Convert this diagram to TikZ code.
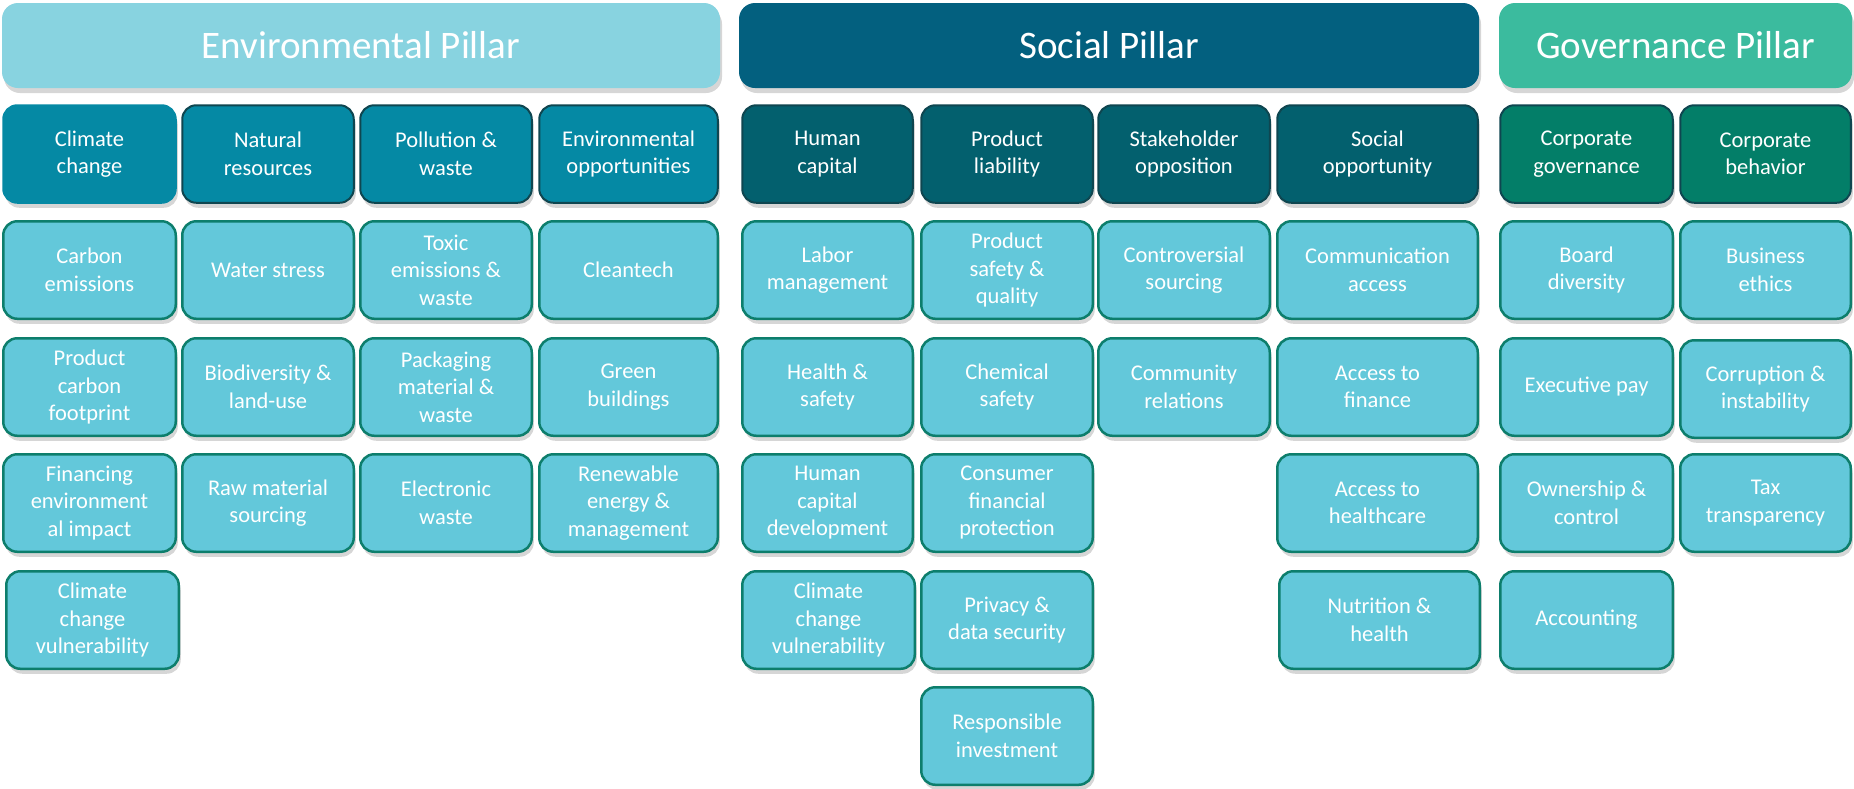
\documentclass[tikz,border=0pt]{standalone}
\usepackage{fontspec}
\setmainfont{Carlito}
\usetikzlibrary{shadows}
\definecolor{envP}{HTML}{88D3E0}
\definecolor{socP}{HTML}{03607F}
\definecolor{govP}{HTML}{3BBB9E}
\definecolor{envH}{HTML}{0589A4}
\definecolor{socH}{HTML}{03606E}
\definecolor{govH}{HTML}{037E68}
\definecolor{hBorder}{HTML}{0F4650}
\definecolor{itemF}{HTML}{63C8DA}
\definecolor{itemB}{HTML}{0D7E6C}
\tikzset{
  base/.style={rounded corners=14pt, align=center, text=white, inner sep=2pt,
    drop shadow={shadow xshift=2pt, shadow yshift=-5pt, opacity=0.16, fill=black}},
  pillar/.style={base, rounded corners=16pt, font=\fontsize{39}{46}\selectfont},
  head/.style={base, draw=hBorder, line width=2pt, font=\fontsize{22.5}{27.5}\selectfont},
  item/.style={base, fill=itemF, draw=itemB, line width=2.5pt, font=\fontsize{22.5}{27.5}\selectfont},
}
% #1 style, #2 name, #3 x1, #4 x2, #5 y1, #6 y2, #7 text
\newcommand\cell[7]{\node[#1, minimum width={#4-#3-2.5}, minimum height={#6-#5-2.5}] (#2) at ({(#3+#4)/2},{(#5+#6)/2}) {#7};}
\begin{document}
\begin{tikzpicture}[x=1pt,y=-1pt]
\useasboundingbox[fill=white] (0,0) rectangle (1854,788);
% pillars
\node[pillar, fill=envP, minimum width=718, minimum height=85] (envp) at (361,45.5) {Environmental Pillar};
\node[pillar, fill=socP, minimum width=740, minimum height=85] (socp) at (1109,45.5) {Social Pillar};
\node[pillar, fill=govP, minimum width=353, minimum height=85] (govp) at (1675.5,45.5) {Governance Pillar};
% headers
\cell{head, fill=envH, draw=envH}{hcc}{2}{177}{104}{204}{Climate\\change}
\cell{head, fill=envH}{hnr}{181}{355}{104}{204}{Natural\\resources}
\cell{head, fill=envH}{hpw}{359}{533}{104}{204}{Pollution \&\\waste}
\cell{head, fill=envH}{heo}{538}{719}{104}{204}{Environmental\\opportunities}
\cell{head, fill=socH}{hhc}{741}{914}{104}{204}{Human\\capital}
\cell{head, fill=socH}{hpl}{920}{1094}{104}{204}{Product\\liability}
\cell{head, fill=socH}{hso}{1097}{1271}{104}{204}{Stakeholder\\opposition}
\cell{head, fill=socH}{hsp}{1276}{1479}{104}{204}{Social\\opportunity}
\cell{head, fill=govH}{hcg}{1499}{1674}{104}{204}{Corporate\\governance}
\cell{head, fill=govH}{hcb}{1679}{1852}{104}{204}{Corporate\\behavior}
% Climate change
\cell{item}{cc1}{2}{177}{220}{320}{Carbon\\emissions}
\cell{item}{cc2}{2}{177}{337}{437}{Product\\carbon\\footprint}
\cell{item}{cc3}{2}{177}{453}{553}{Financing\\environment\\al impact}
\cell{item}{cc4}{5}{180}{570}{670}{Climate\\change\\vulnerability}
% Natural resources
\cell{item}{nr1}{181}{355}{220}{320}{Water stress}
\cell{item}{nr2}{181}{355}{337}{437}{Biodiversity \&\\land-use}
\cell{item}{nr3}{181}{355}{453}{553}{Raw material\\sourcing}
% Pollution
\cell{item}{pw1}{359}{533}{220}{320}{Toxic\\emissions \&\\waste}
\cell{item}{pw2}{359}{533}{337}{437}{Packaging\\material \&\\waste}
\cell{item}{pw3}{359}{533}{453}{553}{Electronic\\waste}
% Env opportunities
\cell{item}{eo1}{538}{719}{220}{320}{Cleantech}
\cell{item}{eo2}{538}{719}{337}{437}{Green\\buildings}
\cell{item}{eo3}{538}{719}{453}{553}{Renewable\\energy \&\\management}
% Human capital
\cell{item}{hc1}{741}{914}{220}{320}{Labor\\management}
\cell{item}{hc2}{741}{914}{337}{437}{Health \&\\safety}
\cell{item}{hc3}{741}{914}{453}{553}{Human\\capital\\development}
\cell{item}{hc4}{741}{916}{570}{670}{Climate\\change\\vulnerability}
% Product liability
\cell{item}{pl1}{920}{1094}{220}{320}{Product\\safety \&\\quality}
\cell{item}{pl2}{920}{1094}{337}{437}{Chemical\\safety}
\cell{item}{pl3}{920}{1094}{453}{553}{Consumer\\financial\\protection}
\cell{item}{pl4}{920}{1094}{570}{670}{Privacy \&\\data security}
\cell{item}{pl5}{920}{1094}{686}{786}{Responsible\\investment}
% Stakeholder opposition
\cell{item}{so1}{1097}{1271}{220}{320}{Controversial\\sourcing}
\cell{item}{so2}{1097}{1271}{337}{437}{Community\\relations}
% Social opportunity
\cell{item}{sp1}{1276}{1479}{220}{320}{Communication\\access}
\cell{item}{sp2}{1276}{1479}{337}{437}{Access to\\finance}
\cell{item}{sp3}{1276}{1479}{453}{553}{Access to\\healthcare}
\cell{item}{sp4}{1278}{1481}{570}{670}{Nutrition \&\\health}
% Corporate governance
\cell{item}{cg1}{1499}{1674}{220}{320}{Board\\diversity}
\cell{item}{cg2}{1499}{1674}{337}{437}{Executive pay}
\cell{item}{cg3}{1499}{1674}{453}{553}{Ownership \&\\control}
\cell{item}{cg4}{1499}{1674}{570}{670}{Accounting}
% Corporate behavior
\cell{item}{cb1}{1679}{1852}{220}{320}{Business\\ethics}
\cell{item}{cb2}{1679}{1852}{339}{439}{Corruption \&\\instability}
\cell{item}{cb3}{1679}{1852}{453}{553}{Tax\\transparency}
\end{tikzpicture}
\end{document}
